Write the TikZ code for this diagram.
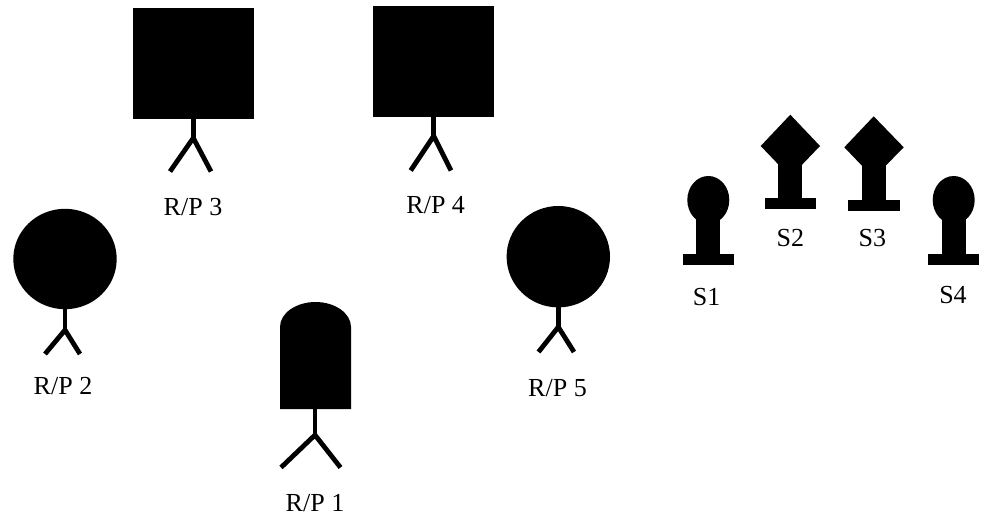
\documentclass[tikz,border=0pt]{standalone}
\usepackage{fontspec}
\setmainfont{Liberation Serif}
\tikzset{
  x=1pt,y=-1pt,
  solid shape/.style={fill=black,draw=none},
  limb/.style={draw=black,line width=4.8pt,line cap=butt,line join=miter},
  caption/.style={font=\fontsize{26pt}{28pt}\selectfont,inner sep=0pt,text=black}
}
\newcommand{\figlimbs}[4]{%
  \draw[limb] (#1,#2) -- (#1,#3);
  \draw[limb] #4;
}
\begin{document}
\begin{tikzpicture}
\useasboundingbox (0,0) rectangle (987,518);
% R/P 1
\fill[solid shape] (280,409) -- (280,327) .. controls (280,313.2) and (296,302) .. (315.5,302) .. controls (335,302) and (351,313.2) .. (351,327) -- (351,409) -- cycle;
\figlimbs{315}{408}{435}{(281,467.5) -- (315,435) -- (340.5,467.5)}
\node[caption] (rp1) at (315,503) {R/P 1};
% R/P 2
\fill[solid shape] (65,259) ellipse [x radius=51.7,y radius=50.2];
\figlimbs{65}{308}{330}{(45,354) -- (65,330) -- (80,354)}
\node[caption] (rp2) at (63,385.7) {R/P 2};
% R/P 3
\fill[solid shape] (133,8) rectangle (254,118.7);
\figlimbs{193.3}{118}{138}{(170,171.5) -- (193.3,138) -- (211,171.5)}
\node[caption] (rp3) at (193,206.7) {R/P 3};
% R/P 4
\fill[solid shape] (373,6) rectangle (494,117);
\figlimbs{433.7}{116}{136}{(410.7,170.5) -- (433.7,136) -- (451,170.5)}
\node[caption] (rp4) at (435.7,205) {R/P 4};
% R/P 5
\fill[solid shape] (558.3,256.7) ellipse [x radius=51.7,y radius=50.7];
\figlimbs{558.3}{306}{327}{(538.5,352) -- (558.3,327) -- (574,352)}
\node[caption] (rp5) at (557.5,388) {R/P 5};
% S1
\fill[solid shape] (708.3,200) ellipse [x radius=21,y radius=24];
\fill[solid shape] (696,215) rectangle (720,255);
\fill[solid shape] (682.7,254) rectangle (734,264.7);
\node[caption] (s1) at (706.7,296.7) {S1};
% S2
\fill[solid shape] (790.3,114.7) -- (820,146) -- (790.3,177) -- (760.7,146) -- cycle;
\fill[solid shape] (778.3,163) rectangle (802,199);
\fill[solid shape] (764.7,198.3) rectangle (816,209.3);
\node[caption] (s2) at (790.3,238) {S2};
% S3
\fill[solid shape] (873.7,116.3) -- (903.7,147.3) -- (873.7,178) -- (844.3,147.3) -- cycle;
\fill[solid shape] (862,164) rectangle (886,201);
\fill[solid shape] (848.3,200) rectangle (899.7,210.7);
\node[caption] (s3) at (872.3,238) {S3};
% S4
\fill[solid shape] (953.7,200) ellipse [x radius=21,y radius=24];
\fill[solid shape] (942,215) rectangle (966,255);
\fill[solid shape] (928,254) rectangle (979.3,264.7);
\node[caption] (s4) at (953,295) {S4};
\end{tikzpicture}
\end{document}
